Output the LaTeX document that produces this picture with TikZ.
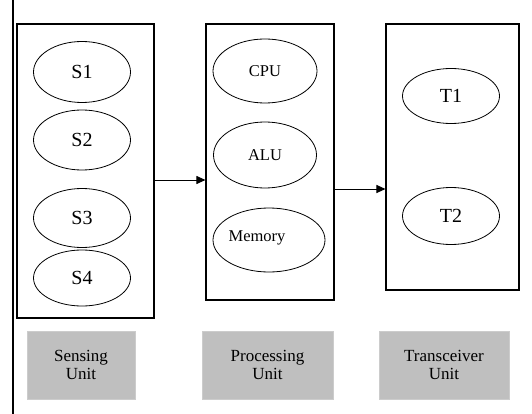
\documentclass[tikz,border=0pt]{standalone}
\usepackage{fontspec}
\setmainfont{Liberation Serif}
\usetikzlibrary{shapes.geometric,arrows.meta}
\begin{document}
\begin{tikzpicture}[x=1pt,y=-1pt,
  unitbox/.style={draw=black,line width=1.1pt,fill=white},
  part/.style={draw=black,line width=0.8pt,ellipse,inner sep=0pt,font=\fontsize{20}{22}\selectfont},
  small/.style={font=\fontsize{16.5}{18}\selectfont},
  label/.style={fill=black!25,draw=black!20,line width=0.5pt,inner sep=0pt,align=center,font=\fontsize{17}{18}\selectfont},
  conn/.style={line width=1pt,-{Triangle[length=9pt,width=8pt]}}]
\useasboundingbox (0,0) rectangle (532,414);
\draw[line width=1.1pt] (13,0) coordinate (lt) -- (13,414) coordinate (lb);
% unit boxes
\node[unitbox,minimum width=137pt,minimum height=294pt] (sens) at (85.5,171) {};
\node[unitbox,minimum width=128pt,minimum height=276pt] (proc) at (270,162) {};
\node[unitbox,minimum width=133pt,minimum height=266pt] (trans) at (452.5,157) {};
% sensing parts
\node[part,minimum width=97pt,minimum height=61pt] (s1) at (82,72) {S1};
\node[part,minimum width=97pt,minimum height=60pt] (s2) at (82,140) {S2};
\node[part,minimum width=97pt,minimum height=59pt] (s3) at (82,218) {S3};
\node[part,minimum width=97pt,minimum height=56pt] (s4) at (82,278) {S4};
% processing parts
\node[part,small,minimum width=104pt,minimum height=64pt] (cpu) at (265,71) {CPU};
\node[part,small,minimum width=103pt,minimum height=66pt] (alu) at (265,155) {ALU};
\node[part,minimum width=112pt,minimum height=64pt] (mem) at (269,240) {};
\node[small] (memt) at (257,238) {Memory};
% transceiver parts
\node[part,minimum width=97pt,minimum height=55pt] (t1) at (451,96) {T1};
\node[part,minimum width=97pt,minimum height=57pt] (t2) at (451,216) {T2};
% connectors
\draw[conn] (sens.east |- 0,180) -- (proc.west |- 0,180);
\draw[conn] (proc.east |- 0,189) -- (trans.west |- 0,189);
% labels
\node[label,minimum width=108pt,minimum height=68pt] (ls) at (81,365) {Sensing\\Unit};
\node[label,minimum width=131pt,minimum height=68pt] (lp) at (267.5,365) {Processing\\Unit};
\node[label,minimum width=130pt,minimum height=68pt] (lt2) at (444,365) {Transceiver\\Unit};
\end{tikzpicture}
\end{document}
